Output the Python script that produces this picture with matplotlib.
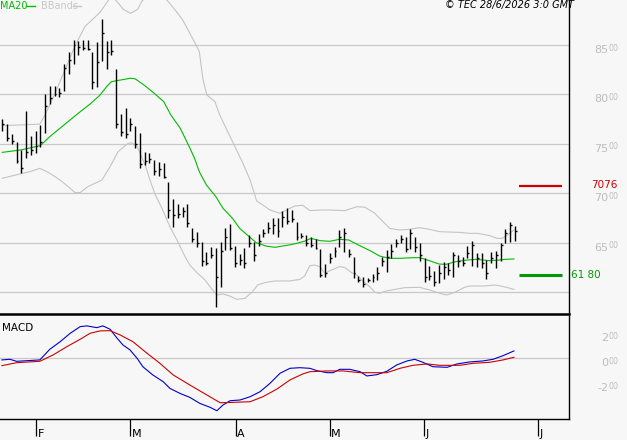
import matplotlib
matplotlib.use("Agg")
import matplotlib.pyplot as plt
import numpy as np

# Data ########################################################

highs = [7749, 7702, 7597, 7523, 7439, 7833, 7580, 7631, 7692, 8001,
         8086, 8086, 8062, 8305, 8426, 8551, 8541, 8551, 8551, 8426,
         8527, 8763, 8541, 8551, 8254, 7800, 7860, 7759, 7682, 7607,
         7422, 7405, 7338, 7314, 7304, 7112, 6944, 6893, 6859, 6893,
         6647, 6607, 6505, 6411, 6455, 6445, 6512, 6647, 6688, 6469,
         6388, 6445, 6580, 6505, 6586, 6637, 6714, 6748, 6748, 6825,
         6849, 6832, 6714, 6603, 6580, 6563, 6536, 6435, 6283, 6401,
         6455, 6630, 6647, 6435, 6354, 6165, 6152, 6142, 6185, 6260,
         6361, 6428, 6485, 6539, 6580, 6556, 6640, 6556, 6495, 6344,
         6270, 6219, 6276, 6310, 6293, 6405, 6377, 6361, 6465, 6522,
         6394, 6394, 6327, 6411, 6421, 6502, 6640, 6714, 6670]
lows = [7631, 7530, 7500, 7304, 7210, 7361, 7388, 7412, 7473, 7607,
        7900, 7985, 7971, 8035, 8207, 8305, 8400, 8450, 8450, 8052,
        8073, 8339, 8254, 8400, 7665, 7580, 7557, 7631, 7463, 7260,
        7287, 7304, 7186, 7180, 7153, 6755, 6664, 6748, 6765, 6664,
        6506, 6455, 6270, 6276, 6344, 5855, 6057, 6428, 6428, 6260,
        6276, 6243, 6455, 6320, 6469, 6556, 6596, 6586, 6563, 6664,
        6691, 6714, 6529, 6546, 6469, 6455, 6435, 6152, 6152, 6300,
        6354, 6455, 6405, 6354, 6148, 6101, 6057, 6101, 6108, 6125,
        6270, 6202, 6350, 6462, 6495, 6405, 6435, 6405, 6320, 6108,
        6125, 6067, 6091, 6135, 6175, 6152, 6260, 6270, 6344, 6270,
        6260, 6250, 6135, 6293, 6243, 6320, 6495, 6512, 6522]
closes = [7700, 7560, 7530, 7330, 7260, 7420, 7440, 7480, 7520, 7880,
          7960, 8000, 8010, 8270, 8350, 8500, 8480, 8470, 8460, 8130,
          8330, 8620, 8430, 8440, 7700, 7620, 7600, 7700, 7500, 7300,
          7330, 7350, 7230, 7250, 7170, 6830, 6780, 6790, 6820, 6700,
          6540, 6500, 6320, 6300, 6380, 6150, 6420, 6560, 6450, 6300,
          6330, 6300, 6500, 6380, 6520, 6600, 6650, 6680, 6620, 6760,
          6720, 6740, 6560, 6570, 6500, 6480, 6450, 6180, 6200, 6350,
          6420, 6560, 6600, 6390, 6200, 6120, 6080, 6120, 6150, 6200,
          6320, 6360, 6420, 6500, 6540, 6440, 6600, 6460, 6380, 6150,
          6170, 6100, 6200, 6260, 6230, 6380, 6320, 6300, 6400, 6480,
          6350, 6300, 6200, 6350, 6380, 6480, 6600, 6680, 6620]

ma_x = [0, 4, 8, 10, 13, 16, 18.5, 20.5, 22, 23, 25, 27, 28, 30, 32, 34,
        35.5, 37.5, 39.5, 40.5, 41.5, 43, 45, 46.5, 48.5, 50, 52, 53.5, 55.5,
        57.5, 59, 60.5, 62, 64, 65, 67, 69, 71, 73, 75, 77.5, 79.5, 81.5, 84,
        86.5, 88, 90, 92, 93.5, 95.5, 98, 100, 102.5, 104.5, 106, 107.8]
ma_y = [7415, 7440, 7483, 7574, 7692, 7810, 7904, 7990, 8080, 8130, 8147,
        8164, 8158, 8090, 8012, 7928, 7793, 7658, 7460, 7355, 7220, 7085,
        6967, 6849, 6748, 6647, 6563, 6502, 6468, 6455, 6468, 6479, 6495,
        6522, 6546, 6522, 6516, 6536, 6529, 6479, 6421, 6367, 6344, 6344,
        6350, 6350, 6320, 6286, 6283, 6310, 6327, 6334, 6320, 6325, 6334, 6337]

up_x = [0, 7.9, 9, 11.1, 13.2, 15.3, 17.4, 20.6, 21.6, 23, 24.3, 25.5, 27,
        28.5, 29.5, 33, 36.4, 38, 39.5, 40.6, 41.5, 42.3, 43.1, 44.8, 45.8,
        48, 49, 50.7, 52.2, 53.6, 54.9, 56.4, 58.5, 60.6, 61.6, 63.3, 64.8,
        66.9, 69, 72.2, 74.7, 76.4, 78.5, 79.5, 80.6, 81.6, 83.7, 85.8, 87.9,
        90, 92.2, 96.4, 98.5, 100.2, 102.7, 104.2, 105.4, 106.9, 107.8]
up_y = [7685, 7700, 7793, 8012, 8248, 8490, 8686, 8831, 8900, 9000, 8930,
        8860, 8821, 8860, 8950, 9050, 8855, 8754, 8619, 8520, 8433, 8147,
        7995, 7928, 7793, 7574, 7473, 7304, 7136, 6923, 6883, 6832, 6799,
        6849, 6873, 6880, 6826, 6832, 6832, 6826, 6866, 6860, 6799, 6748,
        6697, 6647, 6630, 6637, 6654, 6637, 6613, 6606, 6596, 6596, 6573,
        6546, 6546, 6596, 6630]

lo_x = [0, 3.7, 5.8, 7.9, 9.4, 11.1, 12.6, 14.3, 15.3, 16.4, 18, 19.5, 21,
        22.7, 24.4, 26.5, 27.3, 28.4, 30.1, 31.1, 32.1, 33.8, 35.3, 36.8,
        38.5, 39.5, 41, 42.7, 44.2, 45.2, 46.5, 47.9, 49.4, 51.1, 52.6, 53.8,
        55.3, 57.4, 60.6, 62.7, 63.7, 64.8, 65.8, 66.9, 68, 69, 71.1, 72.2,
        73.6, 74.7, 75.7, 77.4, 78.5, 79.5, 80.6, 82.7, 84.8, 87.9, 90, 92.2,
        93.6, 95.3, 97.4, 98.5, 100.2, 101.6, 103.7, 104.7, 106.2, 107.8]
lo_y = [7153, 7196, 7220, 7254, 7220, 7170, 7119, 7051, 7008, 7008, 7068,
        7102, 7136, 7270, 7422, 7506, 7512, 7473, 7287, 7136, 7001, 6832,
        6664, 6529, 6361, 6276, 6199, 6125, 6030, 5973, 5983, 5963, 5929,
        5939, 6000, 6074, 6098, 6115, 6115, 6131, 6165, 6270, 6276, 6260,
        6192, 6219, 6260, 6250, 6199, 6175, 6125, 6057, 6000, 5990, 6010,
        6030, 6047, 6051, 6024, 5990, 5973, 6000, 6051, 6064, 6064, 6064,
        6074, 6067, 6051, 6030]

macd_x = [-0.1, 1.6, 3.0, 7.9, 10.0, 12.2, 14.3, 16.4, 17.8, 19.9, 21.2,
          22.7, 24.2, 25.4, 26.9, 28.4, 29.6, 31.7, 33.9, 35.3, 37.4, 39.5,
          41.6, 43.8, 45.2, 46.5, 48.0, 50.1, 52.2, 54.3, 56.4, 58.5, 60.6,
          62.7, 64.8, 66.3, 68.4, 69.7, 71.1, 73.2, 75.4, 76.8, 78.9, 81.0,
          83.1, 85.3, 86.9, 88.6, 90.7, 93.7, 95.8, 98.5, 101.3, 103.4, 105.5,
          107.8]
macd_y = [-13, -8, -24, -13, 72, 133, 200, 253, 259, 245, 259, 232, 160,
          107, 67, 0, -67, -133, -187, -240, -280, -312, -360, -392, -419,
          -373, -339, -333, -307, -267, -200, -120, -80, -75, -80, -99, -115,
          -115, -88, -88, -107, -141, -131, -104, -53, -21, -8, -32, -67, -72,
          -45, -29, -21, -8, 21, 59]
sig_x = [-0.1, 3.0, 7.9, 10.7, 13.6, 16.4, 18.5, 20.6, 22.7, 24.8, 27.5,
         30.5, 33.2, 36.0, 39.5, 43.1, 45.9, 48.6, 52.2, 54.9, 57.9, 60.6,
         63.3, 64.8, 68.4, 71.8, 75.4, 81.0, 83.8, 86.5, 89.5, 92.2, 96.4,
         99.2, 102.7, 105.5, 107.8]
sig_y = [-59, -35, -24, 27, 93, 152, 200, 219, 221, 187, 133, 40, -40, -133,
         -213, -293, -355, -352, -347, -307, -245, -173, -125, -107, -101,
         -101, -115, -115, -80, -56, -45, -56, -56, -40, -32, -13, 8]

resistance = 7076
support = 6180
price_grid = [6000, 6500, 7000, 7500, 8000, 8500]
macd_ticks = [200, 0, -200]
month_pos = [7.1, 26.9, 49.2, 69.0, 88.8, 112.8]
month_lab = ["F", "M", "A", "M", "J", "J"]

# Figure ######################################################

W, H = 627, 440
bg = "#f7f7f7"
grid_c = "#c8c8c8"
lab_c = "#bdbdbd"
fig = plt.figure(figsize=(W / 100, H / 100), dpi=100, facecolor=bg)

ax = fig.add_axes([0, (H - 314) / H, 569 / W, 314 / H], facecolor=bg)
ax2 = fig.add_axes([0, (H - 419) / H, 569 / W, (419 - 316) / H], facecolor=bg)

xlim = (-0.49, 119.4)
PT = 0.72  # points per pixel


def axis_label(a, v, big):
    # big digits then small raised "00", like the reference scale
    a.annotate(big, xy=(1, v), xycoords=("axes fraction", "data"),
               xytext=(39.5 * PT, -5 * PT), textcoords="offset points", ha="right",
               va="center", color=lab_c, fontsize=8)
    a.annotate("00", xy=(1, v), xycoords=("axes fraction", "data"),
               xytext=(39.5 * PT, -3 * PT), textcoords="offset points", ha="left",
               va="center", color=lab_c, fontsize=5.8)


# main panel
for v in price_grid:
    ax.axhline(v, color=grid_c, lw=0.9, zorder=1)
x = np.arange(len(highs))
ax.plot(up_x, up_y, color="#c4c4c4", lw=0.8, zorder=2)
ax.plot(lo_x, lo_y, color="#c4c4c4", lw=0.8, zorder=2)
ax.plot(ma_x, ma_y, color="#00bb00", lw=0.8, zorder=3)
ax.vlines(x, lows, highs, color="black", lw=1.0, zorder=4)
ax.hlines(closes, x, x + 0.4, color="black", lw=1.0, zorder=4)

ax.hlines(resistance, 108.95, 117.9, color="#cc0000", lw=1.6)
ax.hlines(support, 108.95, 117.9, color="#009900", lw=2.2)

ax.set_xlim(*xlim)
ax.set_ylim(5781, 8955)
ax.set_xticks([])
ax.set_yticks([])
for s in ["top", "left"]:
    ax.spines[s].set_visible(False)
ax.spines["bottom"].set_linewidth(1.8)
ax.spines["right"].set_linewidth(1.0)

for v in price_grid[1:]:
    axis_label(ax, v, str(v // 100))
ax.annotate("7076", xy=(1, resistance), xycoords=("axes fraction", "data"),
            xytext=(48 * PT, 1 * PT), textcoords="offset points", ha="right", va="center",
            color="#cc0000", fontsize=7.5)
ax.annotate("61 80", xy=(1, support), xycoords=("axes fraction", "data"),
            xytext=(1.5, 0), textcoords="offset points", ha="left", va="center",
            color="#009900", fontsize=7.5)

# header texts
fig.text(0 / W, 1 - 6 / H, "MA20", color="#00bb00", fontsize=7, va="center")
fig.lines.append(plt.Line2D([26 / W, 35 / W], [1 - 6 / H, 1 - 6 / H], color="#00bb00",
                            lw=1, transform=fig.transFigure))
fig.text(41 / W, 1 - 6 / H, "BBands", color="#c8c8c8", fontsize=7, va="center")
fig.lines.append(plt.Line2D([73 / W, 81 / W], [1 - 6 / H, 1 - 6 / H], color="#c8c8c8",
                            lw=1, transform=fig.transFigure))
fig.text(574 / W, 1 - 5 / H, "\u00a9 TEC 28/6/2026 3:0 GMT", color="black", fontsize=7,
         style="italic", ha="right", va="center")

# MACD panel
ax2.axhline(0, color=grid_c, lw=0.9, zorder=1)
ax2.plot(macd_x, macd_y, color="#0000cc", lw=0.8, zorder=3)
ax2.plot(sig_x, sig_y, color="#cc0000", lw=0.8, zorder=3)
ax2.set_xlim(*xlim)
ax2.set_ylim(-485, 338)
ax2.set_yticks([])
ax2.set_xticks(month_pos)
ax2.set_xticklabels([])
ax2.tick_params(axis="x", direction="out", length=12, width=0.9, color="black")
for s in ["top", "left"]:
    ax2.spines[s].set_visible(False)
ax2.spines["bottom"].set_linewidth(1.0)
ax2.spines["right"].set_linewidth(1.0)
ax2.text(2 / 569, 1 - 12 / 103, "MACD", transform=ax2.transAxes, fontsize=7.5,
         color="black", va="center")

for v in macd_ticks:
    big = str(v // 100) if v >= 0 else "-" + str(abs(v) // 100)
    axis_label(ax2, v, big)

for p, m in zip(month_pos, month_lab):
    ax2.annotate(m, xy=(p, 0), xycoords=("data", "axes fraction"), xytext=(1, -10.5),
                 textcoords="offset points", ha="left", va="center", fontsize=8)

fig.savefig("out.png", dpi=100, facecolor=bg)
